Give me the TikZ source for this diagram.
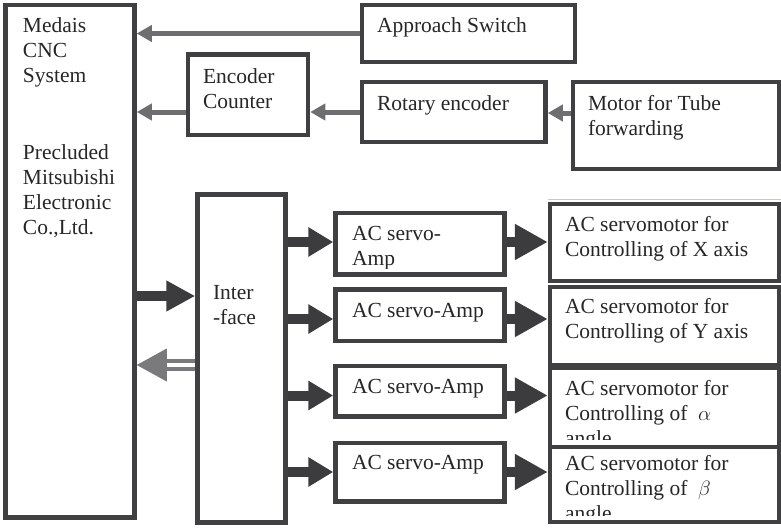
\documentclass[tikz,border=0pt]{standalone}
\usepackage{fontspec}
\setmainfont{Liberation Serif}
\usetikzlibrary{arrows.meta,calc}
\definecolor{frame}{HTML}{404042}
\definecolor{ink}{HTML}{262626}
\definecolor{lightarrow}{HTML}{6E6E70}
\definecolor{darkarrow}{HTML}{3C3C3E}
\definecolor{ghost}{HTML}{7A7A7C}
\definecolor{hair}{HTML}{C8C8CA}

% block from its frame corners (x1,y1) to (x2,y2), y counted downwards
\newcommand\blk[5]{\node[box, minimum width={(#4)-(#2)}, minimum height={(#5)-(#3)}]
  (#1) at ({((#2)+(#4))/2},{((#3)+(#5))/2}) {};}
% left aligned label, first baseline at (x,y)
\newcommand\lbltext[4]{\node[lbl] (#1) at (#2,#3) {\begin{tabular}[t]{@{}l@{}}#4\end{tabular}};}

\begin{document}
\begin{tikzpicture}[x=1pt,y=-1pt,
  box/.style={draw=frame, line width=4.5pt, inner sep=0pt, outer sep=2.25pt},
  lbl/.style={anchor=base west, inner sep=0pt, outer sep=0pt, text=ink,
    font=\fontsize{21.5}{25}\selectfont},
  thinarrow/.style={draw=lightarrow, line width=5pt,
    -{Triangle[length=15pt,width=16pt]}},
  cncout/.style={draw=darkarrow, line width=10pt,
    -{Triangle[length=29pt,width=29pt]}},
  ampin/.style={draw=darkarrow, line width=10pt,
    -{Triangle[length=25pt,width=28pt]}},
  motin/.style={draw=darkarrow, line width=10pt,
    -{Triangle[length=33pt,width=34pt]}},
  feedback/.style={draw=ghost, line width=3.2pt, double=white, double distance=4.8pt},
]
\useasboundingbox (0,0) rectangle (781,527);

% ---- blocks ----
\blk{cnc}{5.5}{5}{134.5}{517.5}
\blk{appr}{362}{5}{575}{62}
\blk{enc}{188}{54.5}{308}{135}
\blk{rot}{362}{82}{545.5}{142}
\blk{mot}{573}{82}{779}{169}
\blk{iface}{197.5}{194.5}{285.5}{522.5}
\blk{amp1}{335.5}{213}{504.5}{274.5}
\blk{amp2}{335.5}{289.5}{504.5}{341}
\blk{amp3}{335.5}{366}{504.5}{416.5}
\blk{amp4}{335.5}{443}{504.5}{501.5}
\blk{mx}{550}{204}{779}{281}
\blk{my}{550}{287}{779}{365}
\blk{ma}{550}{368}{779}{447}
\blk{mb}{550}{447}{779}{522}
\draw[hair, line width=0.8pt] (548,199) -- (781,199);

% ---- labels ----
\lbltext{tcnc}{23}{33}{Medais\\CNC\\System}
\lbltext{tmit}{23}{159}{Precluded\\Mitsubishi\\Electronic\\Co.,Ltd.}
\lbltext{tappr}{377}{33}{Approach Switch}
\lbltext{tenc}{203}{83}{Encoder\\Counter}
\lbltext{trot}{377}{110}{Rotary encoder}
\lbltext{tmot}{588}{110}{Motor for Tube\\forwarding}
\lbltext{tif}{213}{299}{Inter\\-face}
\begin{scope}
  \clip (338,216) rectangle (502,268);
  \lbltext{tamp1}{352}{240}{AC servo-\\Amp}
\end{scope}
\lbltext{tamp2}{352}{317}{AC servo-Amp}
\lbltext{tamp3}{352}{393}{AC servo-Amp}
\lbltext{tamp4}{352}{469}{AC servo-Amp}
\lbltext{tmx}{565}{231}{AC servomotor for\\Controlling of X axis}
\lbltext{tmy}{565}{313}{AC servomotor for\\Controlling of Y axis}
\begin{scope}
  \clip (553,371) rectangle (776,439.5);
  \lbltext{tma}{565}{395}{AC servomotor for\\Controlling of \ $\alpha$\\angle}
\end{scope}
\begin{scope}
  \clip (553,450) rectangle (776,515);
  \lbltext{tmb}{565}{470}{AC servomotor for\\Controlling of \ $\beta$\\angle}
\end{scope}

% ---- signal levels ----
\coordinate (lvA) at (0,112);
\coordinate (lvB) at (0,113);
\coordinate (lvC) at (0,296);
\coordinate (lvD) at (0,365);
\coordinate (lv1) at (0,242);
\coordinate (lv2) at (0,319);
\coordinate (lv3) at (0,395.5);
\coordinate (lv4) at (0,472);

% ---- feedback connectors ----
\draw[thinarrow] (appr.west) -- (appr.west -| cnc.east);
\draw[thinarrow] (enc.west |- lvA) -- (cnc.east |- lvA);
\draw[thinarrow] (rot.west |- lvA) -- (enc.east |- lvA);
\draw[thinarrow] (mot.west |- lvB) -- (rot.east |- lvB);

% ---- command connectors ----
\draw[cncout] (cnc.east |- lvC) -- (iface.west |- lvC);
\foreach \i in {1,2,3,4}{
  \draw[ampin] (iface.east |- lv\i) -- (amp\i.west |- lv\i);
}
\draw[motin] (amp1.east |- lv1) -- (mx.west |- lv1);
\draw[motin] (amp2.east |- lv2) -- (my.west |- lv2);
\draw[motin] (amp3.east |- lv3) -- (ma.west |- lv3);
\draw[motin] (amp4.east |- lv4) -- (mb.west |- lv4);

% ---- interface status back to the CNC ----
\draw[feedback] (iface.west |- lvD) -- ($(cnc.east |- lvD)+(28,0)$);
\fill[ghost] (cnc.east |- lvD) -- ++(30,-16.5) -- ++(0,33) -- cycle;
\end{tikzpicture}
\end{document}
